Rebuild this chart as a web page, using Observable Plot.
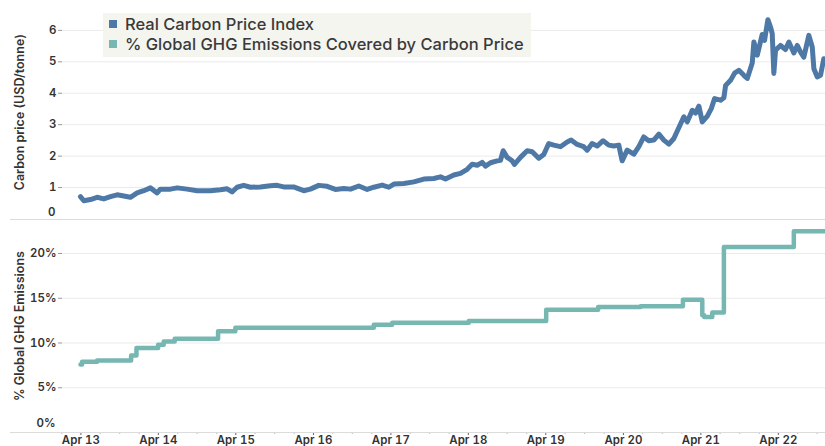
<!DOCTYPE html>
<html>
<head>
<meta charset="utf-8">
<script src="https://cdn.jsdelivr.net/npm/d3@7"></script>
<script src="https://cdn.jsdelivr.net/npm/@observablehq/plot@0.6"></script>
<style>
  body { margin: 0; background: #fff; font-family: Inter, "Noto Sans", sans-serif; }
  #wrap { position: relative; width: 825px; height: 446px; overflow: hidden; }
  #top { position: absolute; left: 0; top: 0; }
  #bot { position: absolute; left: 0; top: 219px; }
  .sep { position: absolute; left: 10px; width: 815px; height: 1px; background: #dcdcdc; }
  #legend { position: absolute; left: 103px; top: 13px; width: 428px; height: 44px; background: #f5f5ef;
            font-size: 16.5px; font-weight: 500; color: #3a3a3a; }
  #legend .row { position: absolute; left: 6px; display: flex; align-items: center; white-space: nowrap; }
  #legend .sw { width: 8px; height: 8px; margin-right: 8px; }
</style>
</head>
<body>
<div id="wrap">
  <div id="top"></div>
  <div id="bot"></div>
  <div class="sep" style="top:219px"></div>
  <div class="sep" style="top:432px"></div>
  <div id="legend"></div>
</div>
<script>
// ---- Data (decimal years) ----
const priceYears = [
  2013.241, 2013.284, 2013.370, 2013.456, 2013.542, 2013.628, 2013.715, 2013.800, 2013.886, 2013.973,
  2014.058, 2014.144, 2014.231, 2014.273, 2014.403, 2014.489, 2014.618, 2014.747, 2014.919, 2015.048,
  2015.134, 2015.199, 2015.263, 2015.349, 2015.435, 2015.564, 2015.693, 2015.780, 2015.865, 2015.994,
  2016.123, 2016.209, 2016.317, 2016.425, 2016.532, 2016.639, 2016.726, 2016.833, 2016.941, 2017.026,
  2017.135, 2017.220, 2017.285, 2017.414, 2017.543, 2017.672, 2017.801, 2017.887, 2017.952, 2018.059,
  2018.145, 2018.232, 2018.296, 2018.361, 2018.426, 2018.468, 2018.533, 2018.619, 2018.662, 2018.697,
  2018.748, 2018.813, 2018.842, 2018.920, 2019.006, 2019.071, 2019.156, 2019.221, 2019.285, 2019.350,
  2019.436, 2019.523, 2019.574, 2019.652, 2019.737, 2019.781, 2019.845, 2019.910, 2019.987, 2020.060,
  2020.124, 2020.189, 2020.232, 2020.297, 2020.382, 2020.447, 2020.511, 2020.576, 2020.640, 2020.705,
  2020.769, 2020.834, 2020.898, 2020.963, 2021.027, 2021.071, 2021.136, 2021.178, 2021.221, 2021.265,
  2021.330, 2021.381, 2021.424, 2021.501, 2021.544, 2021.566, 2021.630, 2021.682, 2021.737, 2021.802,
  2021.846, 2021.910, 2021.931, 2021.975, 2022.039, 2022.069, 2022.112, 2022.147, 2022.168, 2022.189,
  2022.211, 2022.275, 2022.340, 2022.383, 2022.447, 2022.491, 2022.534, 2022.576, 2022.641, 2022.685,
  2022.706, 2022.749, 2022.792, 2022.834, 2022.856
];
const priceValues = [
  0.71, 0.58, 0.62, 0.69, 0.64, 0.71, 0.77, 0.73, 0.69, 0.83,
  0.90, 0.99, 0.83, 0.95, 0.95, 0.99, 0.95, 0.90, 0.90, 0.93,
  0.96, 0.86, 1.01, 1.07, 1.01, 1.02, 1.06, 1.07, 1.02, 1.02,
  0.90, 0.95, 1.07, 1.04, 0.94, 0.97, 0.95, 1.05, 0.94, 1.01,
  1.08, 1.01, 1.11, 1.13, 1.18, 1.27, 1.29, 1.34, 1.27, 1.40,
  1.45, 1.58, 1.74, 1.71, 1.80, 1.68, 1.79, 1.85, 1.87, 2.17,
  1.96, 1.85, 1.74, 1.96, 2.17, 2.14, 1.93, 2.05, 2.40, 2.35,
  2.30, 2.45, 2.51, 2.37, 2.30, 2.19, 2.40, 2.32, 2.49, 2.35,
  2.32, 2.35, 1.85, 2.19, 2.06, 2.30, 2.61, 2.49, 2.51, 2.70,
  2.51, 2.38, 2.56, 2.91, 3.25, 3.09, 3.46, 3.37, 3.59, 3.09,
  3.27, 3.51, 3.83, 3.78, 3.86, 4.25, 4.41, 4.64, 4.73, 4.57,
  4.47, 4.96, 5.63, 5.21, 5.87, 5.68, 6.34, 6.10, 5.90, 4.63,
  5.37, 5.52, 5.39, 5.63, 5.28, 5.52, 5.31, 5.15, 5.84, 5.47,
  4.78, 4.52, 4.57, 5.10, 5.05
];
const ghgYears = [
  2013.241, 2013.262, 2013.456, 2013.895, 2013.964, 2014.244, 2014.316, 2014.458, 2015.018, 2015.241,
  2017.026, 2017.264, 2018.253, 2019.252, 2019.923, 2020.469, 2021.015, 2021.265, 2021.290, 2021.394,
  2021.544, 2022.447, 2022.860
];
const ghgValues = [ // percent of global GHG emissions
  7.6, 7.9, 8.05, 8.6, 9.43, 9.8, 10.18, 10.48, 11.3, 11.71,
  12.04, 12.27, 12.45, 13.72, 14.02, 14.1, 14.84, 13.1, 12.9, 13.4,
  20.73, 22.48, 22.48
];
const xTickYears = [2013, 2014, 2015, 2016, 2017, 2018, 2019, 2020, 2021, 2022];
const xTickLabels = ["Apr 13", "Apr 14", "Apr 15", "Apr 16", "Apr 17", "Apr 18", "Apr 19", "Apr 20", "Apr 21", "Apr 22"];
const priceTicks = [1, 2, 3, 4, 5, 6];
const ghgTicks = [0.05, 0.10, 0.15, 0.20];
const seriesNames = ["Real Carbon Price Index", "% Global GHG Emissions Covered by Carbon Price"];
const seriesColors = ["#4e79a7", "#76b7b2"];

// ---- Helpers ----
function toDate(t) {
  const y = Math.floor(t);
  const a = Date.UTC(y, 0, 1), b = Date.UTC(y + 1, 0, 1);
  return new Date(a + (t - y) * (b - a));
}
const price = priceYears.map((t, i) => ({date: toDate(t), value: priceValues[i]}));
const ghg = ghgYears.map((t, i) => ({date: toDate(t), value: ghgValues[i] / 100}));
const xDomain = [toDate(2013.009), toDate(2022.856)];
const majorTicks = xTickYears.map(y => new Date(Date.UTC(y, 3, 1)));
const minorTicks = d3.utcMonth.every(3)
  .range(new Date(Date.UTC(2013, 0, 1)), new Date(Date.UTC(2023, 0, 1)))
  .filter(d => d.getUTCMonth() !== 3);

const font = "Inter, 'Noto Sans', sans-serif";
const baseStyle = {fontFamily: font, fontSize: "11.5px", fontWeight: 600, color: "#333", background: "transparent", overflow: "visible"};

const topChart = Plot.plot({
  width: 825, height: 220,
  marginLeft: 62, marginRight: 0, marginTop: 11, marginBottom: 1.5,
  style: baseStyle,
  x: {type: "utc", domain: xDomain, axis: null},
  y: {domain: [0, 6.6], axis: null},
  marks: [
    Plot.gridY(priceTicks, {stroke: "#ebebeb", strokeOpacity: 1}),
    Plot.axisY(priceTicks, {tickSize: 4, tickPadding: 2, stroke: "#999", fill: "#333", label: null}),
    Plot.axisY([0], {tickSize: 0, tickPadding: 7, dy: -7, fill: "#333", label: null}),
    Plot.text(["Carbon price (USD/tonne)"], {frameAnchor: "left", textAnchor: "middle", dx: -43, dy: -3, rotate: -90, fill: "#333", fontSize: 12.5, fontWeight: 600}),
    Plot.line(price, {x: "date", y: "value", stroke: seriesColors[0], strokeWidth: 5, strokeLinejoin: "round", strokeLinecap: "round"})
  ]
});
document.getElementById("top").append(topChart);

const botChart = Plot.plot({
  width: 825, height: 227,
  marginLeft: 62, marginRight: 0, marginTop: 0, marginBottom: 14,
  style: baseStyle,
  x: {type: "utc", domain: xDomain, axis: null},
  y: {domain: [0, 0.238], axis: null},
  marks: [
    Plot.gridY(ghgTicks, {stroke: "#ebebeb", strokeOpacity: 1}),
    Plot.axisY(ghgTicks, {tickSize: 4, tickPadding: 2, stroke: "#999", fill: "#333", tickFormat: d3.format(".0%"), label: null}),
    Plot.axisY([0], {tickSize: 0, tickPadding: 7, dy: -9, fill: "#333", tickFormat: d3.format(".0%"), label: null}),
    Plot.axisX(minorTicks, {tickSize: 2, tickFormat: () => "", stroke: "#bbb", label: null}),
    Plot.axisX(majorTicks, {tickSize: 3, tickPadding: 0, stroke: "#666", fill: "#333", label: null,
      tickFormat: d => xTickLabels[xTickYears.indexOf(d.getUTCFullYear())]}),
    Plot.text(["% Global GHG Emissions"], {frameAnchor: "left", textAnchor: "middle", dx: -43, rotate: -90, fill: "#333", fontSize: 12.5, fontWeight: 600}),
    Plot.line(ghg, {x: "date", y: "value", curve: "step-after", stroke: seriesColors[1], strokeWidth: 4.5, strokeLinejoin: "round", strokeLinecap: "round"})
  ]
});
document.getElementById("bot").append(botChart);

// ---- Legend ----
const legend = document.getElementById("legend");
seriesNames.forEach((name, i) => {
  const row = document.createElement("div");
  row.className = "row";
  row.style.top = (i === 0 ? 1 : 21) + "px";
  const sw = document.createElement("span");
  sw.className = "sw";
  sw.style.background = seriesColors[i];
  const tx = document.createElement("span");
  tx.textContent = name;
  row.append(sw, tx);
  legend.append(row);
});
</script>
</body>
</html>
